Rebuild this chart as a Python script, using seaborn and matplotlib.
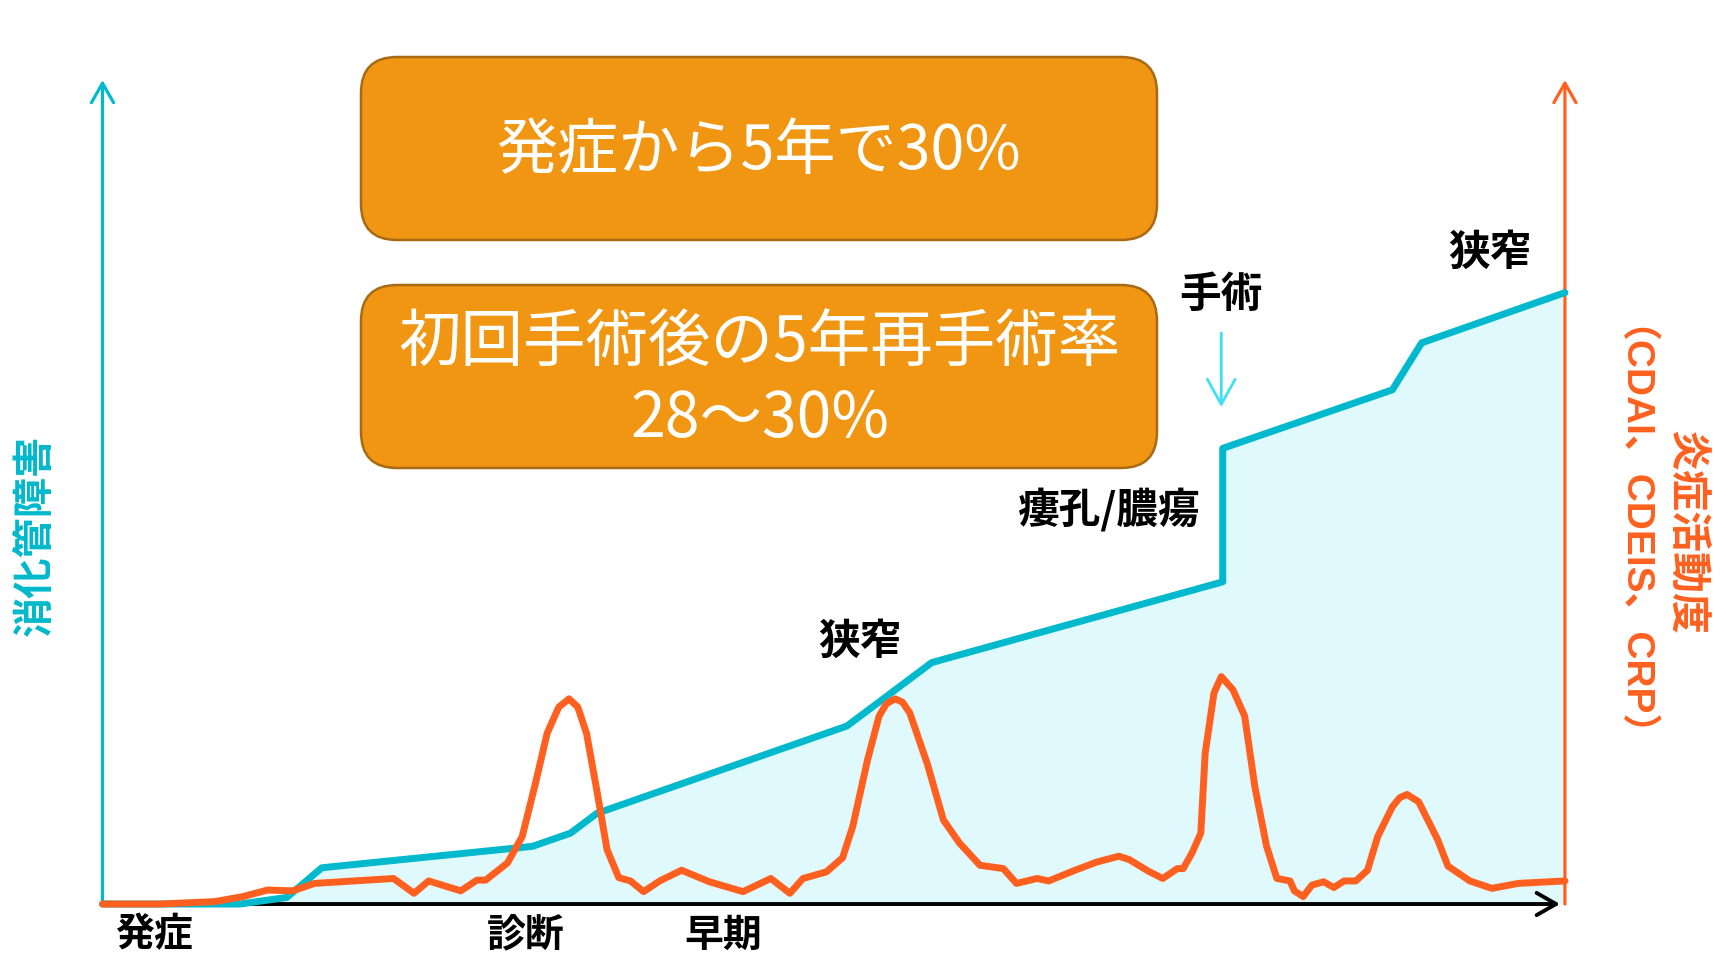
import matplotlib
matplotlib.use("Agg")
import matplotlib.pyplot as plt
from matplotlib.patches import FancyBboxPatch
import pandas as pd
import seaborn as sns

# Bowel damage over the disease course (time 0 = onset, 100 = present)
damage_time = [0.0, 9.4, 12.6, 15.0, 29.4, 32.0, 33.8, 50.9, 56.7, 76.6, 76.6, 88.2, 90.2, 100.0]
damage_level = [0.0, 0.0, 0.8, 4.4, 7.0, 8.6, 11.0, 21.6, 29.3, 39.1, 55.3, 62.4, 68.1, 74.2]

# Inflammatory activity (CDAI, CDEIS, CRP) over the same course
activity_time = [0.0, 4.0, 7.7, 9.6, 11.3, 13.0, 14.5, 19.9, 21.3, 22.3, 24.5, 25.6, 26.2,
                 27.7, 28.7, 29.6, 30.4, 31.2, 31.9, 32.5, 33.1, 33.8, 34.5, 35.3, 36.1,
                 37.0, 38.1, 39.6, 41.5, 43.8, 45.7, 47.0, 47.9, 49.5, 50.6, 51.3, 52.3,
                 53.1, 53.6, 54.2, 54.7, 55.2, 56.4, 57.5, 58.6, 60.0, 61.6, 62.5, 63.9,
                 64.7, 66.5, 68.0, 69.5, 70.2, 71.5, 72.5, 73.5, 73.9, 74.5, 75.1, 75.4,
                 76.0, 76.5, 77.3, 78.1, 78.8, 79.6, 80.3, 81.2, 81.5, 82.1, 82.7, 83.5,
                 84.2, 84.9, 85.7, 86.5, 87.2, 88.2, 88.7, 89.2, 90.0, 91.3, 92.0, 93.5,
                 95.0, 96.8, 100.0]
activity_level = [0.0, 0.0, 0.3, 0.9, 1.7, 1.6, 2.5, 3.1, 1.3, 2.8, 1.6, 2.9, 2.9,
                  5.0, 8.2, 14.6, 20.7, 23.9, 24.9, 23.9, 20.7, 13.8, 6.6, 3.2, 2.8,
                  1.5, 2.8, 4.1, 2.7, 1.5, 3.1, 1.3, 3.1, 3.9, 5.6, 9.4, 17.4,
                  22.8, 24.3, 24.9, 24.5, 23.2, 17.0, 10.2, 7.4, 4.7, 4.3, 2.5, 3.1,
                  2.8, 4.1, 5.1, 5.8, 5.4, 4.0, 3.1, 4.3, 4.3, 6.2, 8.6, 18.3,
                  25.6, 27.6, 26.0, 22.8, 14.2, 7.0, 3.1, 2.8, 1.6, 0.9, 2.3, 2.7,
                  2.0, 2.8, 2.8, 4.1, 8.2, 11.8, 12.9, 13.3, 12.4, 7.8, 4.6, 2.8,
                  1.9, 2.5, 2.8]

stage_labels = ["発症", "診断", "早期"]
event_labels = ["狭窄", "瘻孔/膿瘍", "手術", "狭窄"]
box_texts = ["発症から5年で30%", "初回手術後の5年再手術率\n28～30%"]
left_title = "消化管障害"
right_title = ["炎症活動度", "（CDAI、CDEIS、CRP）"]

TEAL = "#00B9CC"
ORANGE = "#FF601F"
FILL = "#DFF9FD"
BOX_FACE = "#F19612"
BOX_EDGE = "#A86A14"
ARROW_CYAN = "#40DFF2"

sns.set_theme(style="white")
plt.rcParams["font.family"] = ["Noto Sans CJK JP", "DejaVu Sans"]

fig = plt.figure(figsize=(17.28, 9.57), dpi=100)
fig.patch.set_facecolor("white")
ax = fig.add_axes([0, 0, 1, 1])

damage = pd.DataFrame({"time": damage_time, "level": damage_level})
activity = pd.DataFrame({"time": activity_time, "level": activity_level})

# shaded area under the damage curve
ax.fill_between(damage["time"], damage["level"], 0, color=FILL, lw=0, zorder=1)

# axes drawn as arrows
def axis_arrow(x0, y0, x1, y1, color, lw):
    ax.annotate("", xy=(x1, y1), xytext=(x0, y0), annotation_clip=False,
                arrowprops=dict(arrowstyle="->,head_length=0.7,head_width=0.4",
                                color=color, lw=lw, shrinkA=0, shrinkB=0,
                                mutation_scale=20), zorder=2)

axis_arrow(0, 0, 99.66, 0, "black", 2.8)
axis_arrow(0, 0, 0, 100, TEAL, 2.3)
axis_arrow(100, 0, 100, 100, ORANGE, 2.3)

sns.lineplot(data=damage, x="time", y="level", sort=False, estimator=None,
             color=TEAL, lw=5.0, ax=ax, zorder=3,
             solid_joinstyle="round", solid_capstyle="round")
sns.lineplot(data=activity, x="time", y="level", sort=False, estimator=None,
             color=ORANGE, lw=5.0, ax=ax, zorder=4,
             solid_joinstyle="round", solid_capstyle="round")
ax.set_xlim(-7.009, 111.15)
ax.set_ylim(-6.43, 109.71)
ax.axis("off")

# surgery marker arrow
surgery_time = damage_time[9]
ax.annotate("", xy=(surgery_time - 0.1, 60.3), xytext=(surgery_time - 0.1, 69.3),
            annotation_clip=False,
            arrowprops=dict(arrowstyle="->,head_length=0.9,head_width=0.5",
                            color=ARROW_CYAN, lw=2.0, shrinkA=0, shrinkB=0,
                            mutation_scale=20), zorder=5)

inch = fig.dpi_scale_trans

# rounded callout boxes
for y0 in (7.17, 4.89):
    box = FancyBboxPatch((3.61, y0), 7.96, 1.83,
                         boxstyle="round,pad=0,rounding_size=0.36",
                         transform=inch, facecolor=BOX_FACE, edgecolor=BOX_EDGE,
                         lw=1.8, zorder=6)
    fig.patches.append(box)

fig.text(7.59, 8.05, box_texts[0], transform=inch, ha="center", va="center",
         color="white", fontsize=44, fontweight="normal", zorder=7)
fig.text(7.60, 5.76, box_texts[1], transform=inch, ha="center", va="center",
         color="white", fontsize=45, fontweight="normal", linespacing=1.24,
         multialignment="center", zorder=7)

# event labels
event_kw = dict(transform=inch, ha="center", va="center", color="black",
                fontsize=30, fontweight="bold")
fig.text(8.60, 3.15, event_labels[0], **event_kw)
fig.text(11.08, 4.47, event_labels[1], **event_kw)
fig.text(12.21, 6.62, event_labels[2], **event_kw)
fig.text(14.90, 7.04, event_labels[3], **event_kw)

# stage labels under the time axis
stage_kw = dict(transform=inch, ha="center", va="center", color="black",
                fontsize=28, fontweight="bold")
for xpos, txt in zip([1.54, 5.26, 7.23], stage_labels):
    fig.text(xpos, 0.22, txt, **stage_kw)

# axis titles
fig.text(0.35, 4.22, left_title, transform=inch, ha="center", va="center",
         rotation=90, color=TEAL, fontsize=29, fontweight="bold")
fig.text(16.86, 4.25, right_title[0], transform=inch, ha="center", va="center",
         rotation=270, color=ORANGE, fontsize=29.5, fontweight="bold")
fig.text(16.12, 4.05, right_title[1], transform=inch, ha="center", va="center",
         rotation=270, color=ORANGE, fontsize=28, fontweight="bold",
         family=["Liberation Sans", "Noto Sans CJK JP"])

fig.savefig("out.png", dpi=100)
